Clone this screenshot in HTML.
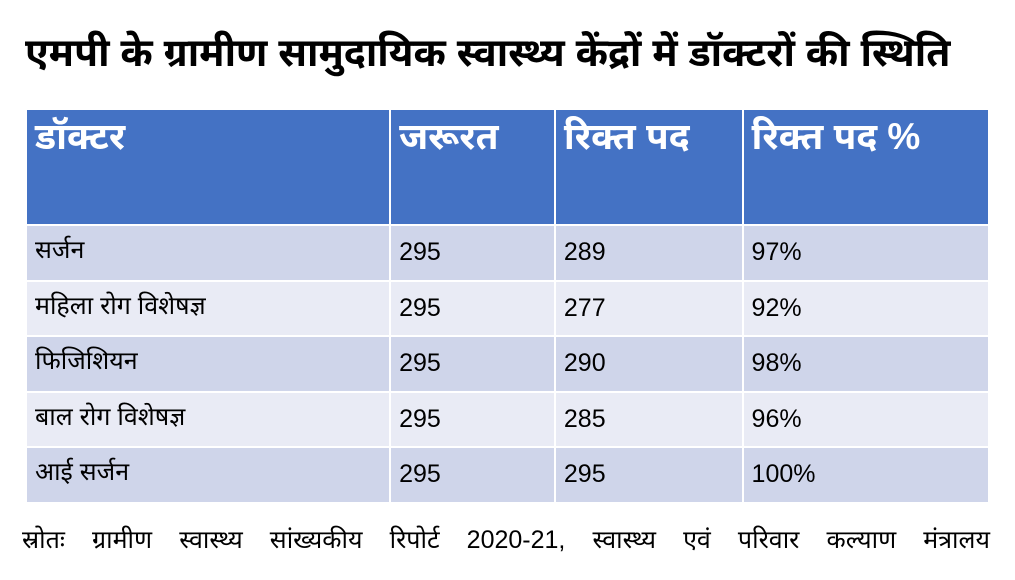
<!DOCTYPE html>
<html><head><meta charset="utf-8"><style>
body{margin:0;width:1015px;height:580px;background:#fff;font-family:"Liberation Sans","Noto Sans Devanagari","Lohit Devanagari",sans-serif;position:relative;overflow:hidden}
h1{position:absolute;left:25px;top:31px;margin:0;font-size:39px;font-weight:bold;color:#000;white-space:nowrap}
table{position:absolute;left:25px;top:108px;border-collapse:collapse;width:965px}
td{border:2px solid #fff;padding:0 8px;font-size:25px;color:#000;vertical-align:middle}
tr.h td{background:#4472c4;color:#fff;font-weight:bold;font-size:37px;height:108px;vertical-align:top;padding-top:6px}
tr.a td{background:#cfd5ea;height:53.5px}
tr.b td{background:#e9ebf5;height:53.5px}
.src{position:absolute;left:22px;width:968px;top:526px;font-size:25px;white-space:nowrap;text-align:justify;text-align-last:justify}
</style></head><body>
<h1>एमपी के ग्रामीण सामुदायिक स्वास्थ्य केंद्रों में डॉक्टरों की स्थिति</h1>
<table>
<colgroup><col style="width:365px"><col style="width:165px"><col style="width:188px"><col style="width:247px"></colgroup>
<tr class="h"><td>डॉक्टर</td><td>जरूरत</td><td>रिक्त पद</td><td>रिक्त पद %</td></tr>
<tr class="a"><td>सर्जन</td><td>295</td><td>289</td><td>97%</td></tr>
<tr class="b"><td>महिला रोग विशेषज्ञ</td><td>295</td><td>277</td><td>92%</td></tr>
<tr class="a"><td>फिजिशियन</td><td>295</td><td>290</td><td>98%</td></tr>
<tr class="b"><td>बाल रोग विशेषज्ञ</td><td>295</td><td>285</td><td>96%</td></tr>
<tr class="a"><td>आई सर्जन</td><td>295</td><td>295</td><td>100%</td></tr>
</table>
<div class="src">स्रोतः ग्रामीण स्वास्थ्य सांख्यकीय रिपोर्ट 2020-21, स्वास्थ्य एवं परिवार कल्याण मंत्रालय</div>
</body></html>
